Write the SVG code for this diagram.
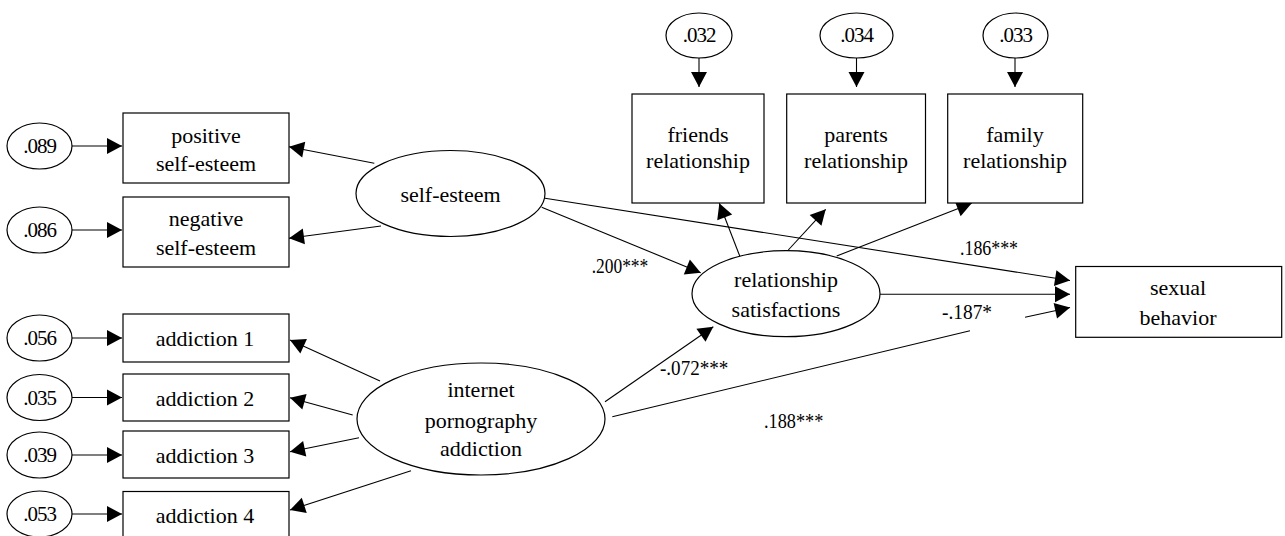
<svg xmlns="http://www.w3.org/2000/svg" width="1285" height="536" viewBox="0 0 1285 536">
<style>
.n{fill:#fff;stroke:#000;stroke-width:1.2}
.t{font-family:"Liberation Serif","Times New Roman",serif;font-size:22px;fill:#000;text-anchor:middle}
.e{font-family:"Liberation Serif","Times New Roman",serif;font-size:21px;fill:#000;text-anchor:middle;letter-spacing:-1px}
.l{font-family:"Liberation Serif","Times New Roman",serif;font-size:21px;fill:#000}
.c line{stroke:#000;stroke-width:1.1}
</style>
<defs>
<marker id="a" markerUnits="userSpaceOnUse" markerWidth="18" markerHeight="18" viewBox="0 -9 16 18" refX="15" refY="0" orient="auto">
<path d="M0,-8 L15,0 L0,8 z" fill="#000"/>
</marker>
</defs>
<g class="c" id="connectors">
<line x1="72" y1="146" x2="122" y2="146" marker-end="url(#a)"/>
<line x1="72" y1="230" x2="122" y2="230" marker-end="url(#a)"/>
<line x1="72" y1="338" x2="122" y2="338" marker-end="url(#a)"/>
<line x1="72" y1="397.5" x2="122" y2="397.5" marker-end="url(#a)"/>
<line x1="72" y1="455" x2="122" y2="455" marker-end="url(#a)"/>
<line x1="72" y1="514" x2="122" y2="514" marker-end="url(#a)"/>
<line x1="699" y1="58" x2="699" y2="87" marker-end="url(#a)"/>
<line x1="856.5" y1="58" x2="856.5" y2="87" marker-end="url(#a)"/>
<line x1="1015" y1="58" x2="1015" y2="87" marker-end="url(#a)"/>
<line x1="374.3" y1="163.3" x2="289" y2="146.7" marker-end="url(#a)"/>
<line x1="381" y1="226" x2="289" y2="238.3" marker-end="url(#a)"/>
<line x1="380" y1="381" x2="290" y2="340" marker-end="url(#a)"/>
<line x1="352.7" y1="415" x2="290" y2="397.7" marker-end="url(#a)"/>
<line x1="359" y1="437.7" x2="290" y2="451.7" marker-end="url(#a)"/>
<line x1="411" y1="470.7" x2="290" y2="510" marker-end="url(#a)"/>
<line x1="545" y1="198.3" x2="1070" y2="280.5" marker-end="url(#a)"/>
<line x1="880" y1="294.3" x2="1070" y2="294.3" marker-end="url(#a)"/>
<line x1="612.3" y1="416.7" x2="970" y2="330.7" />
<line x1="1025" y1="317.3" x2="1070" y2="307.5" marker-end="url(#a)"/>
<line x1="541.7" y1="207.3" x2="700.7" y2="272.7" marker-end="url(#a)"/>
<line x1="605" y1="401.7" x2="713.3" y2="326.7" marker-end="url(#a)"/>
<line x1="740" y1="256.7" x2="719.3" y2="203.3" marker-end="url(#a)"/>
<line x1="788.3" y1="250" x2="825.7" y2="209.3" marker-end="url(#a)"/>
<line x1="836.7" y1="256" x2="971.7" y2="203.3" marker-end="url(#a)"/>
</g>
<g id="e089"><ellipse class="n" cx="39.5" cy="146" rx="32.5" ry="23"/><text class="e" x="39.5" y="153">.089</text></g>
<g id="e086"><ellipse class="n" cx="39.5" cy="230" rx="32.5" ry="23"/><text class="e" x="39.5" y="237">.086</text></g>
<g id="e056"><ellipse class="n" cx="39.5" cy="338" rx="32.5" ry="23"/><text class="e" x="39.5" y="345">.056</text></g>
<g id="e035"><ellipse class="n" cx="39.5" cy="397.5" rx="32.5" ry="23"/><text class="e" x="39.5" y="404.5">.035</text></g>
<g id="e039"><ellipse class="n" cx="39.5" cy="455" rx="32.5" ry="23"/><text class="e" x="39.5" y="462">.039</text></g>
<g id="e053"><ellipse class="n" cx="39.5" cy="514" rx="32.5" ry="23"/><text class="e" x="39.5" y="521">.053</text></g>
<g id="e032"><ellipse class="n" cx="699" cy="35.5" rx="33" ry="22.5"/><text class="e" x="699" y="42">.032</text></g>
<g id="e034"><ellipse class="n" cx="856.5" cy="35.5" rx="36.5" ry="22.5"/><text class="e" x="856.5" y="42">.034</text></g>
<g id="e033"><ellipse class="n" cx="1015.5" cy="35.5" rx="32.5" ry="22.5"/><text class="e" x="1015.5" y="42">.033</text></g>
<g id="positive"><rect class="n" x="123" y="113" width="166" height="70"/><text class="t" x="206" y="143">positive</text><text class="t" x="206" y="171">self-esteem</text></g>
<g id="negative"><rect class="n" x="123" y="197" width="166" height="70"/><text class="t" x="206" y="226">negative</text><text class="t" x="206" y="255">self-esteem</text></g>
<g id="add1"><rect class="n" x="123" y="314" width="166" height="48"/><text class="t" x="205" y="345.7">addiction  1</text></g>
<g id="add2"><rect class="n" x="123" y="374" width="166" height="47"/><text class="t" x="205" y="406">addiction  2</text></g>
<g id="add3"><rect class="n" x="123" y="431" width="166" height="47"/><text class="t" x="205" y="462.7">addiction  3</text></g>
<g id="add4"><rect class="n" x="123" y="491.5" width="166" height="60"/><text class="t" x="205" y="522.7">addiction  4</text></g>
<g id="friends"><rect class="n" x="632" y="94" width="132" height="109"/><text class="t" x="698" y="142">friends</text><text class="t" x="698" y="168">relationship</text></g>
<g id="parents"><rect class="n" x="786.7" y="94" width="138.8" height="109"/><text class="t" x="856" y="142">parents</text><text class="t" x="856" y="168">relationship</text></g>
<g id="family"><rect class="n" x="947.7" y="94" width="135" height="109"/><text class="t" x="1015" y="142">family</text><text class="t" x="1015" y="168">relationship</text></g>
<g id="selfesteem"><ellipse class="n" cx="450.5" cy="193.5" rx="94.5" ry="43"/><text class="t" x="450.5" y="201.7">self-esteem</text></g>
<g id="relsat"><ellipse class="n" cx="786" cy="293.7" rx="94" ry="43"/><text class="t" x="786" y="286.7">relationship</text><text class="t" x="786" y="316.7">satisfactions</text></g>
<g id="ipa"><ellipse class="n" cx="481" cy="419" rx="124" ry="56"/><text class="t" x="481" y="396.7">internet</text><text class="t" x="481" y="428.3">pornography</text><text class="t" x="481" y="456">addiction</text></g>
<g id="sexual"><rect class="n" x="1075.7" y="266.5" width="206" height="70.8"/><text class="t" x="1178" y="295">sexual</text><text class="t" x="1178" y="325">behavior</text></g>
<g id="labels">
<text class="l" x="591.7" y="273.3" textLength="56.6" lengthAdjust="spacingAndGlyphs">.200***</text>
<text class="l" x="960" y="255" textLength="58" lengthAdjust="spacingAndGlyphs">.186***</text>
<text class="l" x="942" y="319" textLength="50" lengthAdjust="spacingAndGlyphs">-.187*</text>
<text class="l" x="660" y="375" textLength="68.3" lengthAdjust="spacingAndGlyphs">-.072***</text>
<text class="l" x="764" y="428.3" textLength="59.3" lengthAdjust="spacingAndGlyphs">.188***</text>
</g>
</svg>
